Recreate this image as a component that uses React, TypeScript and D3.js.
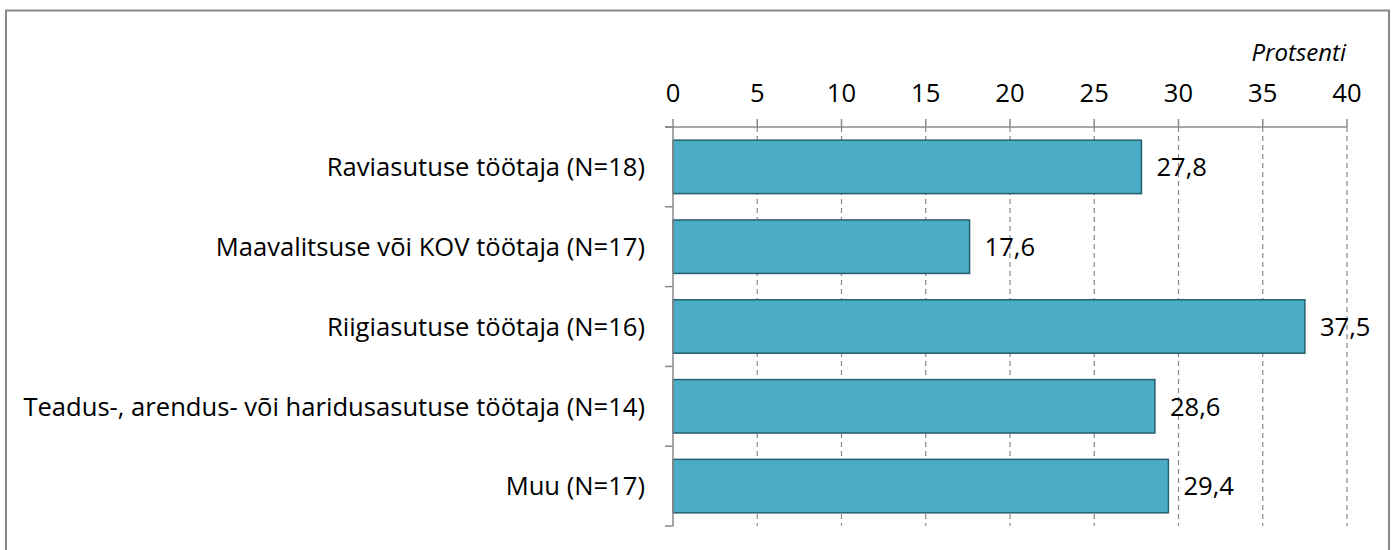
import { useMemo } from "react";
import * as d3 from "d3";

const categories = [
  "Raviasutuse töötaja (N=18)",
  "Maavalitsuse või KOV töötaja (N=17)",
  "Riigiasutuse töötaja (N=16)",
  "Teadus-, arendus- või haridusasutuse töötaja (N=14)",
  "Muu (N=17)",
];
const values = [27.8, 17.6, 37.5, 28.6, 29.4];
const xTicks = [0, 5, 10, 15, 20, 25, 30, 35, 40];
const axisTitle = "Protsenti";

const W = 1394;
const H = 550;
const FONT = "'Open Sans', 'Noto Sans', sans-serif";
const FS = 25.6;

export default function App() {
  const x = useMemo(() => d3.scaleLinear().domain([0, 40]).range([673, 1347]), []);
  const y = useMemo(
    () => d3.scaleBand<string>().domain(categories).range([127, 526]).paddingInner(0.33).paddingOuter(0.165),
    []
  );
  const fmt = (v: number) => d3.format(".1f")(v).replace(".", ",");
  const bandStep = y.step();
  const top = 127;
  const bottom = 526;

  return (
    <svg width={W} height={H} style={{ position: "absolute", left: 0, top: 0, background: "#fff" }}>
      {/* frame */}
      <path d={`M6,${H} V10.5 H1389 V${H}`} fill="none" stroke="#888" strokeWidth={2} />

      {/* gridlines */}
      {xTicks.slice(1).map(t => (
        <line key={`g${t}`} x1={x(t)} x2={x(t)} y1={top} y2={bottom} stroke="#888" strokeWidth={1.2} strokeDasharray="5,4" />
      ))}

      {/* bars */}
      {categories.map((c, i) => (
        <g key={c}>
          <rect
            x={x(0)}
            y={y(c)}
            width={x(values[i]) - x(0)}
            height={y.bandwidth()}
            fill="#4BACC6"
            stroke="#25606F"
            strokeWidth={1.5}
          />
          <text
            x={x(values[i]) + 15}
            y={(y(c) ?? 0) + y.bandwidth() / 2}
            dy="0.36em"
            fontFamily={FONT}
            fontSize={FS}
            fill="#000"
          >
            {fmt(values[i])}
          </text>
          <text
            x={645}
            y={(y(c) ?? 0) + y.bandwidth() / 2}
            dy="0.36em"
            textAnchor="end"
            fontFamily={FONT}
            fontSize={FS}
            fill="#000"
          >
            {c}
          </text>
        </g>
      ))}

      {/* top axis */}
      <line x1={665} x2={x(40)} y1={top} y2={top} stroke="#888" strokeWidth={1.5} />
      {xTicks.map(t => (
        <g key={`t${t}`}>
          <line x1={x(t)} x2={x(t)} y1={top - 8} y2={top} stroke="#888" strokeWidth={1.5} />
          <text x={x(t)} y={102} textAnchor="middle" fontFamily={FONT} fontSize={FS} fill="#000">
            {t}
          </text>
        </g>
      ))}

      {/* left axis */}
      <line x1={x(0)} x2={x(0)} y1={top} y2={bottom} stroke="#888" strokeWidth={1.5} />
      {d3.range(categories.length + 1).map(i => (
        <line key={`l${i}`} x1={665} x2={x(0)} y1={top + i * bandStep} y2={top + i * bandStep} stroke="#888" strokeWidth={1.5} />
      ))}

      <text x={1346} y={61} textAnchor="end" fontFamily={FONT} fontStyle="italic" fontSize={24} fill="#000">
        {axisTitle}
      </text>
    </svg>
  );
}
